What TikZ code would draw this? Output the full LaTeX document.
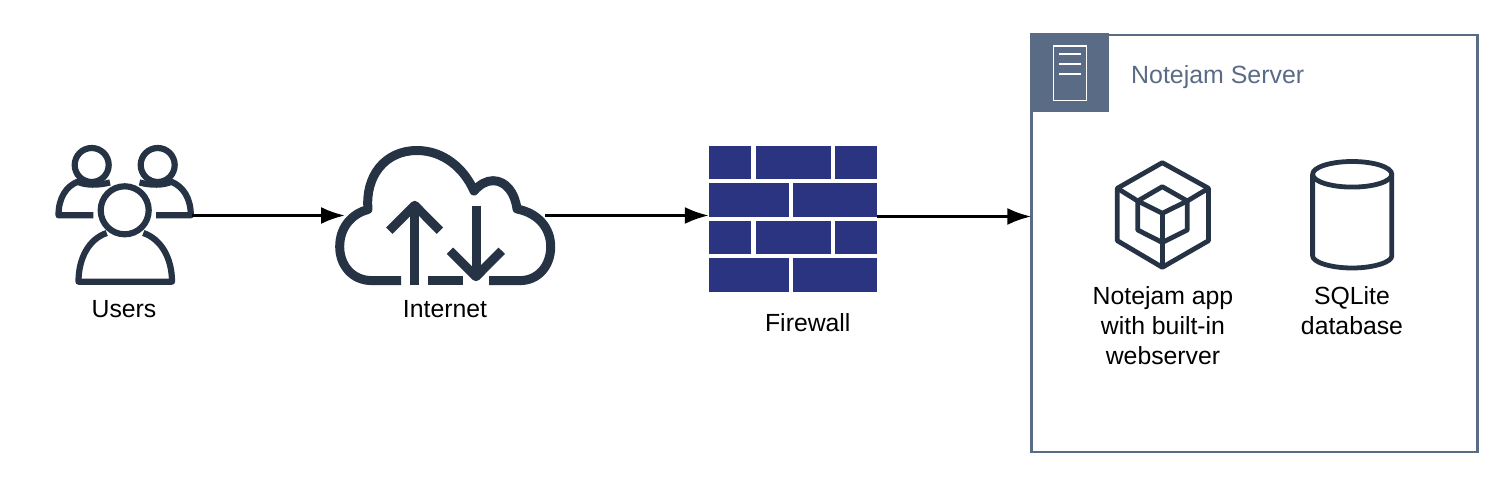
\documentclass[tikz,border=0pt]{standalone}
\usepackage{fontspec}
\setmainfont{Liberation Sans}
\usetikzlibrary{arrows.meta,positioning}
\definecolor{icondark}{HTML}{253344}
\definecolor{slate}{HTML}{5A6B86}
\definecolor{brick}{HTML}{2B3481}
\tikzstyle{iconbox} = [rectangle, inner sep=0pt, outer sep=0pt]
\tikzstyle{caption} = [align=center, text=black, font=\fontsize{24.8}{30}\selectfont]
\tikzstyle{glyph} = [draw=icondark, line width=4.8pt, line join=round]
\tikzstyle{usersglyph} = [glyph, line width=6.2pt]
\tikzstyle{cloudglyph} = [glyph, line width=9pt]
\tikzstyle{brickrow} = [fill=brick, draw=none]
\tikzstyle{arrow} = [line width=2.8pt,-{Latex[length=24pt,width=17pt]}]

\begin{document}
\begin{tikzpicture}[x=1pt,y=-1pt]
\useasboundingbox (0,0) rectangle (1510,486);
\node (users) [iconbox, minimum width=136pt, minimum height=140pt] at (124,215.5) {};
\node (internet) [iconbox, minimum width=200pt, minimum height=140pt] at (445,215.5) {};
\node (firewall) [iconbox, minimum width=168pt, minimum height=146pt] at (792.8,216.5) {};
\node (server) [iconbox, draw=slate, line width=2.8pt, minimum width=446pt, minimum height=417pt] at (1254.3,243.5) {};
\node (appicon) [iconbox, minimum width=92pt, minimum height=105pt] at (1163,215.5) {};
\node (dbicon) [iconbox, minimum width=80pt, minimum height=105pt] at (1352,221) {};

\node (userstxt) [caption, below of=users, node distance=93.5pt] {Users};
\node (internettxt) [caption, below of=internet, node distance=93.5pt] {Internet};
\node (firewalltxt) [caption, below of=firewall, node distance=106.5pt, xshift=15pt] {Firewall};
\node (apptxt) [caption, below of=appicon, node distance=110.5pt] {Notejam app\\with built-in\\webserver};
\node (dbtxt) [caption, below of=dbicon, node distance=90pt] {SQLite\\database};

% users
\draw [usersglyph] (91.7,165) circle (17);
\draw [usersglyph] (157.7,165) circle (17);
\draw [usersglyph] (124.7,210.3) circle (24);
\draw [usersglyph] (93.3,215.3) -- (58.5,215.3) .. controls (58.5,198) and (66,186.5) .. (77.5,181.8) .. controls (86,185.5) and (98,185.5) .. (110,182.5);
\draw [usersglyph] (156,215.3) -- (190.8,215.3) .. controls (190.8,198) and (183,186.5) .. (171.5,181.8) .. controls (163,185.5) and (151,185.5) .. (139.5,182.5);
\draw [usersglyph] (106.7,233) .. controls (89,239) and (78.5,258) .. (78.5,281.7) -- (172,281.7) .. controls (172,258) and (161,239) .. (143.3,233);

% internet
\draw [cloudglyph] (401,280.6) -- (372,280.6) .. controls (352,280.6) and (339.7,265) .. (339.7,246.7) .. controls (339.7,228) and (351,214) .. (368,209.5) .. controls (365,176) and (385,150.5) .. (417,150.5) .. controls (443,150.5) and (464,168) .. (474,191) .. controls (480,184) and (487,180.7) .. (493,180.7) .. controls (506,180.7) and (515,193) .. (517,209) .. controls (538,213) and (550.7,228) .. (550.7,246.7) .. controls (550.7,266) and (538,280.6) .. (520,280.6) -- (489,280.6);
\draw [cloudglyph] (427.7,280.6) -- (462.7,280.6);
\draw [cloudglyph] (414.7,285) -- (414.7,205.3);
\draw [cloudglyph] (389.3,230.7) -- (414.7,205.3) -- (440,230.7);
\draw [cloudglyph] (476,205.7) -- (476,276.7);
\draw [cloudglyph] (450,250.7) -- (476,276.7) -- (501.7,250.7);

% firewall
\foreach \ya/\yb in {145.7/179,221/254.5}
  \foreach \xa/\xb in {709/751,756/830.5,834.5/876.7}
    \fill [brickrow] (\xa,\ya) rectangle (\xb,\yb);
\foreach \ya/\yb in {183/216.7,258.5/292}
  \foreach \xa/\xb in {709/788.5,792.7/876.7}
    \fill [brickrow] (\xa,\ya) rectangle (\xb,\yb);

% server header
\fill [slate] (1030,33) rectangle (1109,112);
\draw [white, line width=1.6pt] (1053.5,46) rectangle (1086.5,100.5);
\foreach \y in {54,64,74}
  \draw [white, line width=1.4pt] (1059,\y) -- (1080.7,\y);
\node (servertxt) [anchor=west, inner sep=0pt, text=slate, font=\fontsize{24.9}{30}\selectfont] at (1131,77) {Notejam Server};

% app
\draw [glyph] (1162.3,162.7) -- (1208.5,188.3) -- (1208.5,240.7) -- (1162.3,267.3) -- (1117.3,240.7) -- (1117.3,188.3) -- cycle;
\draw [glyph] (1162.3,186.7) -- (1187.3,201) -- (1187.3,230) -- (1162.3,242.5) -- (1137.7,230) -- (1137.7,201) -- cycle;
\draw [glyph] (1137.7,201) -- (1162.3,213.3) -- (1187.3,201);
\draw [glyph] (1162.3,213.3) -- (1162.3,267.3);
\draw [glyph] (1117.3,188.3) -- (1137.7,201);
\draw [glyph] (1208.5,188.3) -- (1187.3,201);

% database
\draw [glyph] (1352.2,174.3) ellipse (39.6 and 12.8);
\draw [glyph] (1312.6,174.3) -- (1312.6,256) .. controls (1312.6,262) and (1330,268) .. (1352.2,268) .. controls (1374,268) and (1391.8,262) .. (1391.8,256) -- (1391.8,174.3);

\draw [arrow] (users.east) -- (internet.west);
\draw [arrow] (internet.east) -- (internet.east -| firewall.west);
\draw [arrow] (firewall.east) -- (firewall.east -| server.west);
\end{tikzpicture}
\end{document}
